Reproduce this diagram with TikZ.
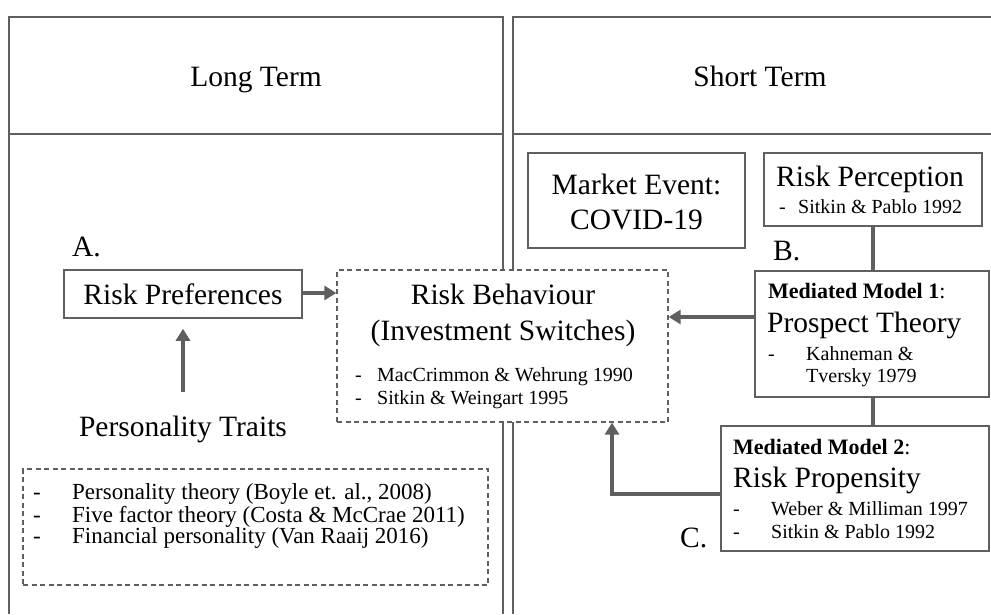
\documentclass[tikz,border=0pt]{standalone}
\usepackage{fontspec}
\setmainfont{Liberation Serif}
\usetikzlibrary{arrows.meta}
\definecolor{framec}{RGB}{95,95,95}
\newcommand\fbig{\fontsize{29.5}{35}\selectfont}
\newcommand\fmm{\fontsize{22}{26}\selectfont}
\newcommand\fsml{\fontsize{20}{24}\selectfont}
\newcommand\fper{\fontsize{23}{27}\selectfont}
\tikzset{
  panel/.style={draw=framec, line width=1.6pt},
  box/.style={draw=framec, line width=1.5pt, inner sep=0pt, fill=white},
  dbox/.style={draw=framec, line width=1.3pt, dash pattern=on 5pt off 3.5pt, inner sep=0pt, fill=white},
  txt/.style={inner sep=0pt, text=black},
  arr/.style={draw=framec, line width=4pt, -{Triangle[width=14pt,length=12pt]}},
  conn/.style={draw=framec, line width=3.5pt}
}
\begin{document}
\begin{tikzpicture}[x=1pt,y=-1pt]
\useasboundingbox (0,0) rectangle (991,614);
% panels
\draw[panel] (9,614) -- (9,17) -- (503,17) -- (503,614);
\draw[panel] (9,134) -- (503,134);
\draw[panel] (513,614) -- (513,17) -- (991,17);
\draw[panel] (513,134) -- (991,134);
\node[txt, anchor=base] (lt) at (256,86) {\fbig Long Term};
\node[txt, anchor=base] (st) at (760,86) {\fbig Short Term};

% boxes
\node[box, minimum width=238pt, minimum height=48pt] (rp) at (183,294) {\fbig Risk Preferences};
\node[dbox, minimum width=331pt, minimum height=152pt] (rb) at (502.5,346) {};
\node[box, minimum width=217pt, minimum height=95pt] (me) at (636.5,200.5) {};
\node[box, minimum width=218pt, minimum height=73pt] (rpc) at (873,189.5) {};
\node[box, minimum width=234pt, minimum height=126pt] (mm1) at (872,334) {};
\node[box, minimum width=268pt, minimum height=125pt] (mm2) at (855,488.5) {};
\node[dbox, minimum width=465pt, minimum height=116pt] (ptb) at (255.5,527) {};

% left texts
\node[txt, anchor=base west] (la) at (72,256) {\fbig A.};
\node[txt, anchor=base] (ptt) at (183,436) {\fbig Personality Traits};
\node[txt, anchor=base west] (pd1) at (33,499) {\fper -};
\node[txt, anchor=base west] (pd2) at (33,522) {\fper -};
\node[txt, anchor=base west] (pd3) at (33,543) {\fper -};
\node[txt, anchor=base west] (p1) at (72,499) {\fper Personality theory (Boyle et. al., 2008)};
\node[txt, anchor=base west] (p2) at (72,522) {\fper Five factor theory (Costa \& McCrae 2011)};
\node[txt, anchor=base west] (p3) at (72,543) {\fper Financial personality (Van Raaij 2016)};

% risk behaviour texts
\node[txt, anchor=base] (rb1) at (503,304) {\fbig Risk Behaviour};
\node[txt, anchor=base] (rb2) at (503,340) {\fbig (Investment Switches)};
\node[txt, anchor=base west] (rbd1) at (355,381) {\fsml -};
\node[txt, anchor=base west] (rbd2) at (355,404) {\fsml -};
\node[txt, anchor=base west] (rbb1) at (377,381) {\fsml MacCrimmon \& Wehrung 1990};
\node[txt, anchor=base west] (rbb2) at (377,404) {\fsml Sitkin \& Weingart 1995};

% market event
\node[txt, anchor=base] (me1) at (636.5,194) {\fbig Market Event:};
\node[txt, anchor=base] (me2) at (636.5,229) {\fbig COVID-19};

% risk perception
\node[txt, anchor=base] (rpc1) at (870,186) {\fbig Risk Perception};
\node[txt, anchor=base west] (rpcd) at (779,213) {\fsml -};
\node[txt, anchor=base west] (rpcb) at (798,213) {\fsml Sitkin \& Pablo 1992};
\node[txt, anchor=base west] (lb) at (773,260) {\fbig B.};

% mediated model 1
\node[txt, anchor=base west] (m11) at (768,298) {\fmm\textbf{Mediated Model 1}:};
\node[txt, anchor=base west] (m12) at (767,332) {\fbig Prospect Theory};
\node[txt, anchor=base west] (m1d) at (768,360) {\fsml -};
\node[txt, anchor=base west] (m1b1) at (806,360) {\fsml Kahneman \&};
\node[txt, anchor=base west] (m1b2) at (806,382) {\fsml Tversky 1979};

% mediated model 2
\node[txt, anchor=base west] (m21) at (733,454) {\fmm\textbf{Mediated Model 2}:};
\node[txt, anchor=base west] (m22) at (733,487) {\fbig Risk Propensity};
\node[txt, anchor=base west] (m2d1) at (733,515) {\fsml -};
\node[txt, anchor=base west] (m2d2) at (733,538) {\fsml -};
\node[txt, anchor=base west] (m2b1) at (771,515) {\fsml Weber \& Milliman 1997};
\node[txt, anchor=base west] (m2b2) at (771,538) {\fsml Sitkin \& Pablo 1992};
\node[txt, anchor=base west] (lc) at (680,547) {\fbig C.};

% connectors
\draw[arr, shorten <=23pt, shorten >=10pt] (ptt.north) -- (rp.south);
\draw[arr] ([yshift=1pt]rp.east) coordinate (ra) -- (ra -| rb.west);
\draw[arr] ([yshift=17pt]mm1.west) coordinate (ma) -- (ma -| rb.east);
\draw[arr] ([yshift=-5.5pt]mm2.west) -| ([xshift=109.5pt]rb.south);
\draw[conn] (rpc.south) -- (rpc.south |- mm1.north);
\draw[conn] ([xshift=1pt]mm1.south) coordinate (mb) -- (mb |- mm2.north);
\end{tikzpicture}
\end{document}
